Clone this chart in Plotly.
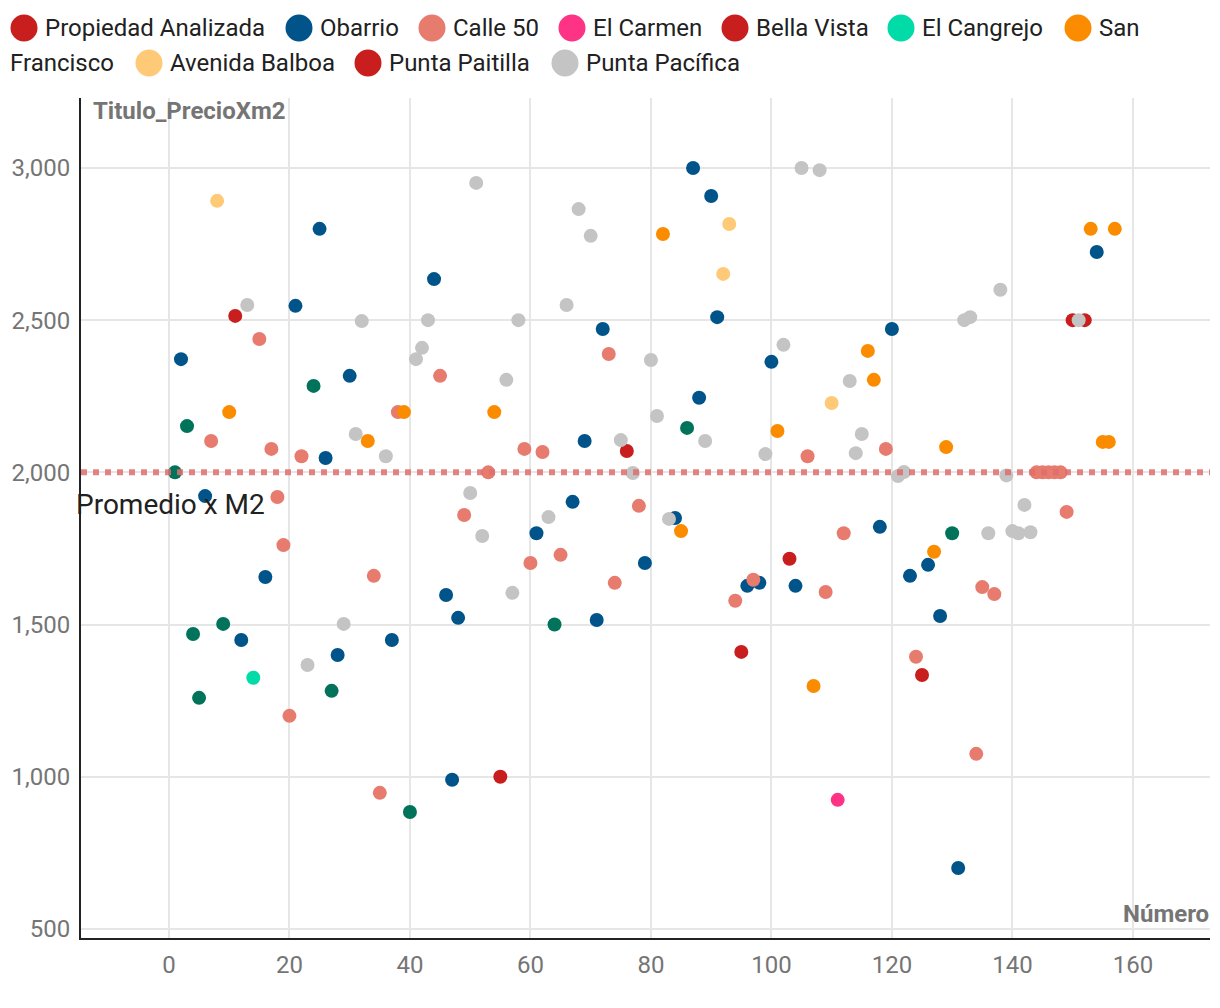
import plotly.graph_objects as go

# ---- data (Número, precio x m2) ----
propiedad_x = [11]
propiedad_y = [2514]

obarrio_x = [2, 6, 12, 16, 21, 25, 26, 28, 30, 37, 44, 46, 47, 48, 61, 67, 69, 71, 72, 79, 84, 87, 88, 90, 91, 96, 98, 100, 104, 118, 120, 123, 126, 128, 131, 154]
obarrio_y = [2372, 1922, 1449, 1656, 2547, 2800, 2047, 1400, 2317, 1449, 2635, 1597, 990, 1522, 1800, 1903, 2103, 1515, 2471, 1702, 1850, 3000, 2245, 2908, 2510, 1627, 1637, 2363, 1627, 1821, 2471, 1660, 1696, 1528, 700, 2724]

calle50_x = [7, 15, 17, 18, 19, 20, 22, 34, 35, 38, 45, 49, 53, 59, 60, 62, 65, 73, 74, 78, 94, 97, 106, 109, 112, 119, 124, 134, 135, 137, 144, 145, 146, 147, 148, 149]
calle50_y = [2103, 2438, 2077, 1919, 1761, 1200, 2053, 1660, 947, 2198, 2317, 1860, 2000, 2077, 1702, 2067, 1729, 2389, 1637, 1890, 1578, 1647, 2053, 1607, 1800, 2077, 1394, 1075, 1623, 1600, 2000, 2000, 2000, 2000, 2000, 1870]

carmen_x = [111]
carmen_y = [924]

bella_x = [55, 95, 125]
bella_y = [1000, 1410, 1334]

cangrejo_x = [14]
cangrejo_y = [1325]

sanfran_x = [10, 33, 39, 54, 82, 85, 101, 107, 116, 117, 127, 129, 153, 155, 156, 157]
sanfran_y = [2198, 2103, 2198, 2198, 2783, 1807, 2136, 1298, 2399, 2304, 1739, 2083, 2800, 2100, 2100, 2800]

balboa_x = [8, 92, 93, 110]
balboa_y = [2892, 2652, 2816, 2228]

paitilla_x = [76, 103, 150, 152]
paitilla_y = [2070, 1716, 2500, 2500]

pacifica_x = [13, 23, 29, 31, 32, 36, 41, 42, 43, 50, 51, 52, 56, 57, 58, 63, 66, 68, 70, 75, 77, 80, 81, 83, 89, 99, 102, 105, 108, 113, 114, 115, 121, 122, 132, 133, 136, 138, 139, 140, 141, 142, 143, 151]
pacifica_y = [2550, 1367, 1502, 2126, 2497, 2053, 2372, 2409, 2500, 1932, 2951, 1791, 2304, 1604, 2500, 1853, 2550, 2865, 2777, 2106, 1998, 2369, 2185, 1847, 2103, 2060, 2419, 3000, 2993, 2300, 2063, 2126, 1988, 2001, 2500, 2510, 1800, 2600, 1990, 1807, 1800, 1893, 1803, 2500]

otros_x = [1, 3, 4, 5, 9, 24, 27, 40, 64, 86, 130]
otros_y = [2000, 2152, 1469, 1259, 1502, 2284, 1282, 884, 1500, 2146, 1800]

promedio = 2000

series = [
    ("Propiedad Analizada", propiedad_x, propiedad_y, "#C81E1E"),
    ("Obarrio", obarrio_x, obarrio_y, "#00548A"),
    ("Calle 50", calle50_x, calle50_y, "#E67B6E"),
    ("El Carmen", carmen_x, carmen_y, "#FF3385"),
    ("Bella Vista", bella_x, bella_y, "#C81E1E"),
    ("El Cangrejo", cangrejo_x, cangrejo_y, "#00DBA8"),
    ("San Francisco", sanfran_x, sanfran_y, "#FB8C00"),
    ("Avenida Balboa", balboa_x, balboa_y, "#FFCA78"),
    ("Punta Paitilla", paitilla_x, paitilla_y, "#C81E1E"),
    ("Punta Pacífica", pacifica_x, pacifica_y, "#C4C4C4"),
    ("Otros", otros_x, otros_y, "#00735A"),
]

# plot area in pixels (for placing the custom legend)
W, H = 1220, 1008
ML, MR, MT, MB = 81, 10, 98, 70
PW, PH = W - ML - MR, H - MT - MB


def px_x(p):
    return (p - ML) / PW


def px_y(p):
    return (H - MB - p) / PH


fig = go.Figure()
for name, xs, ys, color in series:
    fig.add_trace(go.Scatter(
        x=xs, y=ys, mode="markers", name=name, showlegend=False,
        marker=dict(size=14, color=color, line=dict(width=0)),
    ))

# custom legend (wrapping like the reference)
legend_items = [
    # (circle centre x, row y, label, colour)
    (24, 28, "Propiedad Analizada", "#C81E1E"),
    (299, 28, "Obarrio", "#00548A"),
    (432, 28, "Calle 50", "#E67B6E"),
    (572, 28, "El Carmen", "#FF3385"),
    (735, 28, "Bella Vista", "#C81E1E"),
    (901, 28, "El Cangrejo", "#00DBA8"),
    (1078, 28, "San", "#FB8C00"),
    (149, 63, "Avenida Balboa", "#FFCA78"),
    (368, 63, "Punta Paitilla", "#C81E1E"),
    (565, 63, "Punta Pacífica", "#C4C4C4"),
]
legend_font = dict(size=24, color="#212121", family="Roboto")
for cx, cy, label, color in legend_items:
    fig.add_shape(type="circle", xref="paper", yref="paper",
                  xsizemode="pixel", ysizemode="pixel",
                  xanchor=px_x(cx), yanchor=px_y(cy),
                  x0=-13.5, x1=13.5, y0=-13.5, y1=13.5,
                  fillcolor=color, line=dict(width=0), layer="above")
    fig.add_annotation(x=px_x(cx + 19), y=px_y(cy), xref="paper", yref="paper",
                       text=label, showarrow=False, xanchor="left", yanchor="middle",
                       font=legend_font)
fig.add_annotation(x=px_x(8), y=px_y(63), xref="paper", yref="paper",
                   text="Francisco", showarrow=False, xanchor="left", yanchor="middle",
                   font=legend_font)

fig.add_shape(type="line", xref="paper", x0=0, x1=1, yref="y", y0=promedio, y1=promedio,
              line=dict(color="rgba(222,110,110,0.85)", width=6, dash="dot"), layer="above")

fig.add_annotation(x=0.2, y=1893, xref="x", yref="y", text="Promedio x M2", showarrow=False,
                   font=dict(size=28, color="#212121", family="Roboto"), xanchor="center", yanchor="middle")
fig.add_annotation(x=px_x(91), y=px_y(111), xref="paper", yref="paper", text="<b>Titulo_PrecioXm2</b>",
                   showarrow=False, xanchor="left", yanchor="middle",
                   font=dict(size=24, color="#757575", family="Roboto"))
fig.add_annotation(x=px_x(1211), y=px_y(914), xref="paper", yref="paper", text="<b>Número</b>",
                   showarrow=False, xanchor="right", yanchor="middle",
                   font=dict(size=24, color="#757575", family="Roboto"))

fig.update_layout(
    width=W, height=H, autosize=False,
    margin=dict(l=ML, r=MR, t=MT, b=MB, autoexpand=False),
    paper_bgcolor="white", plot_bgcolor="white",
    font=dict(family="Roboto", size=24, color="#757575"),
    showlegend=False,
    xaxis=dict(range=[-14.6, 172.8], tickmode="array", tickvals=[0, 20, 40, 60, 80, 100, 120, 140, 160],
               showgrid=True, gridcolor="#E6E6E6", gridwidth=2, zeroline=False,
               showline=True, linecolor="#222222", linewidth=2, ticks="", ticklabelstandoff=4,
               tickfont=dict(size=24, color="#757575")),
    yaxis=dict(range=[470, 3230], tickmode="array", tickvals=[500, 1000, 1500, 2000, 2500, 3000],
               tickformat=",", showgrid=True, gridcolor="#E6E6E6", gridwidth=2, zeroline=False,
               showline=True, linecolor="#222222", linewidth=2, ticks="", ticklabelstandoff=4,
               tickfont=dict(size=24, color="#757575")),
)

fig.write_html("out.html", config={"displayModeBar": False},
               post_script="document.body.style.margin='0';document.body.style.padding='0';"
                           "document.body.style.overflow='hidden';")
